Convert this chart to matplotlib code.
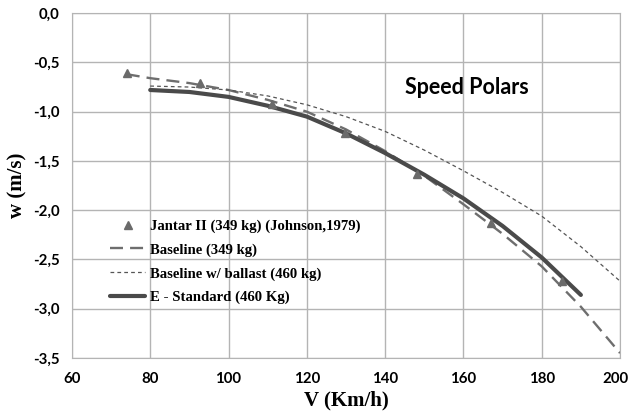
import matplotlib
matplotlib.use("Agg")
import matplotlib.pyplot as plt
from matplotlib.ticker import FuncFormatter, MultipleLocator

# Jantar II measured points (Johnson, 1979)
jantar_v = [74, 92.7, 111, 129.8, 148.2, 167, 185.3]
jantar_w = [-0.61, -0.71, -0.92, -1.22, -1.63, -2.13, -2.72]

# Baseline (349 kg)
base_v = [74, 80, 90, 100, 110, 120, 130, 140, 150, 160, 170, 180, 190, 200]
base_w = [-0.62, -0.66, -0.71, -0.78, -0.88, -1.00, -1.18, -1.40, -1.65, -1.94, -2.24, -2.57, -2.98, -3.45]

# Baseline w/ ballast (460 kg)
ball_v = [80, 90, 100, 110, 120, 130, 140, 150, 160, 170, 180, 190, 200]
ball_w = [-0.74, -0.75, -0.78, -0.84, -0.93, -1.05, -1.20, -1.39, -1.60, -1.82, -2.06, -2.37, -2.72]

# E - Standard (460 Kg)
estd_v = [80, 90, 100, 110, 120, 130, 140, 150, 160, 170, 180, 190]
estd_w = [-0.78, -0.80, -0.85, -0.94, -1.05, -1.22, -1.42, -1.64, -1.88, -2.16, -2.48, -2.86]

x_max = 200

fig = plt.figure(figsize=(6.31, 4.11), dpi=100)
ax = fig.add_axes([0.114, 0.129, 0.8686, 0.839])

ax.plot(jantar_v, jantar_w, linestyle="none", marker="^", markersize=6,
        color="#6a6a6a", label="Jantar II (349 kg) (Johnson,1979)", zorder=4)
ax.plot(base_v, base_w, color="#6e6e6e", lw=1.7, dashes=(5.5, 3),
        label="Baseline (349 kg)", zorder=3)
ax.plot(ball_v, ball_w, color="#555555", lw=0.9, dashes=(3, 2.5),
        label="Baseline w/ ballast (460 kg)", zorder=3)
ax.plot(estd_v, estd_w, color="#4a4a4a", lw=3.0, solid_capstyle="round",
        label="E - Standard (460 Kg)", zorder=3)

ax.set_xlim(60, x_max)
ax.set_ylim(-3.5, 0)
ax.xaxis.set_major_locator(MultipleLocator(20))
ax.yaxis.set_major_locator(MultipleLocator(0.5))
# the last x label sits at the picture edge; it is drawn separately a bit to the left
ax.xaxis.set_major_formatter(FuncFormatter(lambda v, p: "" if v >= x_max else f"{v:.0f}"))
ax.yaxis.set_major_formatter(FuncFormatter(lambda v, p: f"{v:.1f}".replace(".", ",")))
ax.grid(True, color="#b4b4b4", lw=1.0)
ax.set_axisbelow(True)
for s in ax.spines.values():
    s.set_color("#b4b4b4")
ax.tick_params(length=0, labelsize=10.8)
ax.tick_params(axis="x", pad=10)
ax.tick_params(axis="y", pad=9)
for lab in ax.get_xticklabels() + ax.get_yticklabels():
    lab.set_family("Lato")
    lab.set_fontweight("bold")

ax.annotate(f"{x_max}", xy=(x_max, 0), xycoords=ax.get_xaxis_transform(),
            xytext=(-3, -10), textcoords="offset points", ha="center", va="top",
            family="Lato", fontweight="bold", fontsize=10.8)

ax.set_xlabel("V (Km/h)", family="Liberation Serif", fontweight="bold", fontsize=15, labelpad=3)
ax.set_ylabel("w (m/s)", family="Liberation Serif", fontweight="bold", fontsize=15, labelpad=4)

ax.text(161, -0.75, "Speed Polars", family="Lato", fontweight="bold", fontsize=15.5,
        ha="center", va="center")

leg = ax.legend(loc="upper left", bbox_to_anchor=(0.045, 0.44), frameon=False,
                prop={"family": "Liberation Serif", "weight": "bold", "size": 10.6},
                handlelength=2.4, handletextpad=0.35, labelspacing=0.7)

fig.savefig("out.png", dpi=100)
